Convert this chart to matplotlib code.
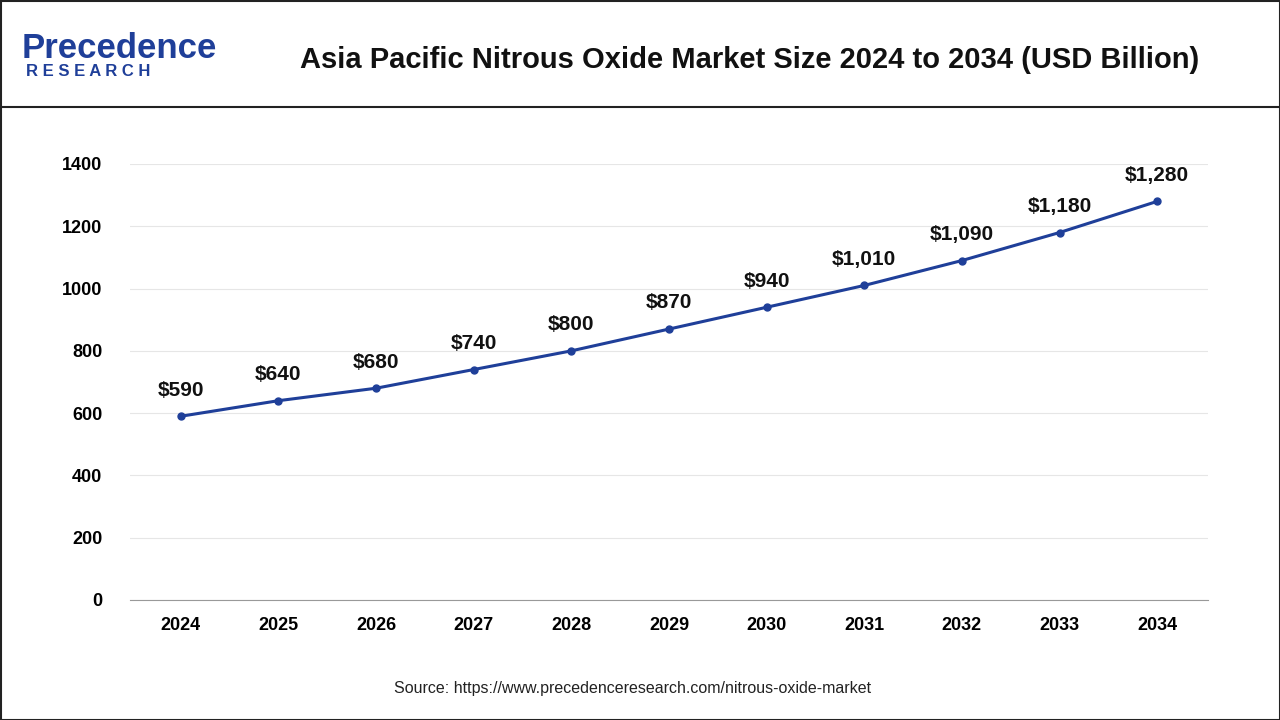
import matplotlib
matplotlib.use("Agg")
import matplotlib.pyplot as plt

years = ["2024","2025","2026","2027","2028","2029","2030","2031","2032","2033","2034"]
values = [590,640,680,740,800,870,940,1010,1090,1180,1280]
labels = ["$590","$640","$680","$740","$800","$870","$940","$1,010","$1,090","$1,180","$1,280"]
yticks = [0,200,400,600,800,1000,1200,1400]

plt.rcParams["font.family"] = "Liberation Sans"
fig = plt.figure(figsize=(12.8,7.2), dpi=100)
W,H = 1280,720
ax = fig.add_axes([130/W, 1-600/H, (1208-130)/W, (600-164)/H])
x = list(range(len(years)))
ax.plot(x, values, color="#1f3f99", lw=2.2, marker="o", ms=5, zorder=3)
for xi, v, l in zip(x, values, labels):
    ax.annotate(l, (xi, v), xytext=(0, 12), textcoords="offset points", ha="center",
                va="bottom", fontsize=15, fontweight="bold", color="#111")
ax.set_ylim(0, 1400)
ax.set_xlim(-0.52, 10.52)
ax.set_yticks(yticks)
ax.set_xticks(x)
ax.set_xticklabels(years)
ax.grid(axis="y", color="#e6e6e6", lw=0.8)
ax.set_axisbelow(True)
for s in ["top","right","left"]:
    ax.spines[s].set_visible(False)
ax.spines["bottom"].set_color("#999")
ax.tick_params(axis="both", length=0, labelsize=13)
ax.tick_params(axis="x", pad=12)
ax.tick_params(axis="y", pad=20)
for t in ax.get_xticklabels()+ax.get_yticklabels():
    t.set_fontweight("bold")

# header
fig.add_artist(plt.Rectangle((0.5/W, 0.5/H), 1-1/W, 1-1/H, fill=False, ec="#222", lw=1.5, transform=fig.transFigure))
fig.add_artist(plt.Line2D([0,1],[1-107/H,1-107/H], color="#222", lw=1.5, transform=fig.transFigure))
fig.text(750/W, 1-60/H, "Asia Pacific Nitrous Oxide Market Size 2024 to 2034 (USD Billion)",
         ha="center", va="center", fontsize=21, fontweight="bold", color="#111")
fig.text(22/W, 1-48/H, "Precedence", ha="left", va="center", fontsize=25, color="#1f3f99", fontweight="bold")
fig.text(26/W, 1-72/H, "R E S E A R C H", ha="left", va="center", fontsize=12, color="#1f3f99", fontweight="bold")
fig.text(633/W, 1-689/H, "Source: https://www.precedenceresearch.com/nitrous-oxide-market",
         ha="center", va="center", fontsize=11.5, color="#222")
fig.savefig("out.png", dpi=100)
